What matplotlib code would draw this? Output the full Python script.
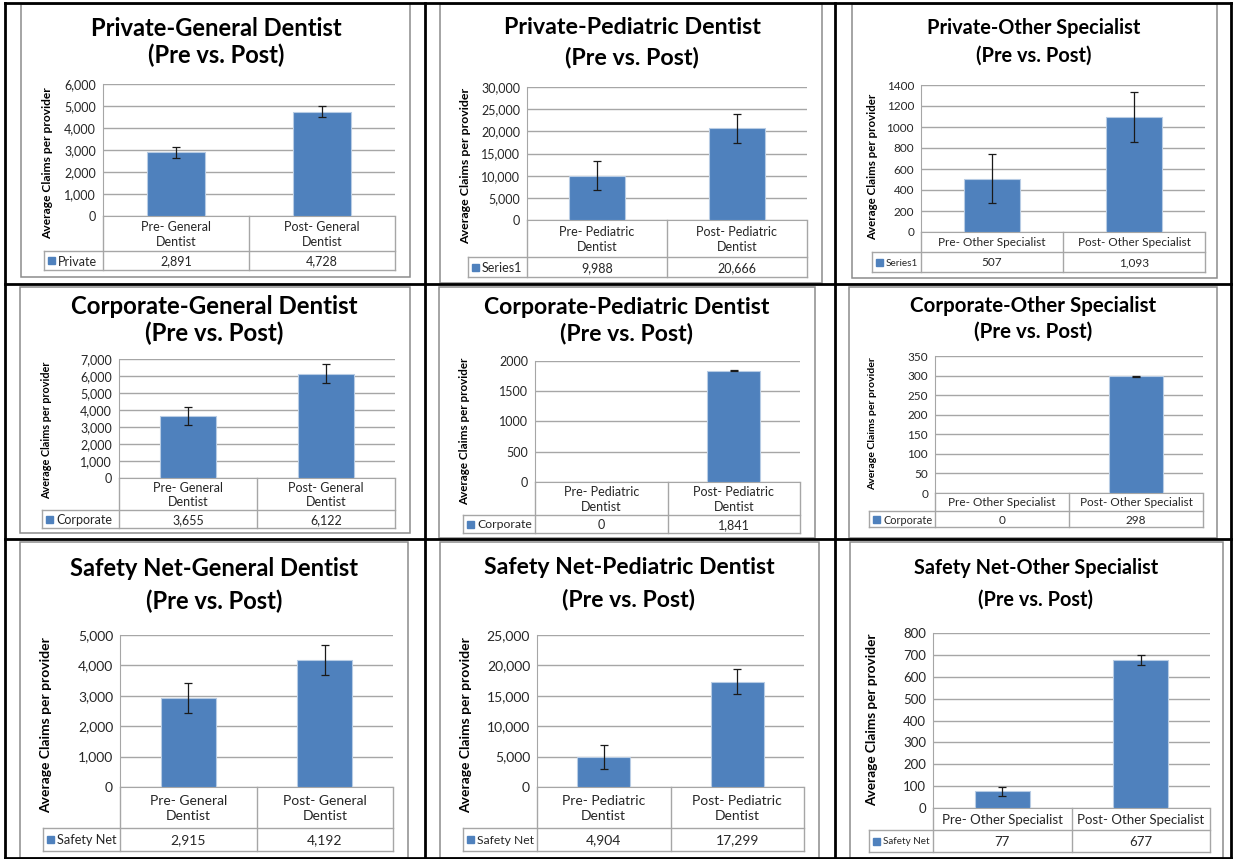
import matplotlib

matplotlib.use("Agg")

import matplotlib.pyplot as plt
from matplotlib.patches import Rectangle
from matplotlib.ticker import FuncFormatter, MultipleLocator

plt.rcParams["font.family"] = ["Lato", "DejaVu Sans"]

# ---- data ----
panel_titles = [
    "Private-General Dentist",
    "Private-Pediatric Dentist",
    "Private-Other Specialist",
    "Corporate-General Dentist",
    "Corporate-Pediatric Dentist",
    "Corporate-Other Specialist",
    "Safety Net-General Dentist",
    "Safety Net-Pediatric Dentist",
    "Safety Net-Other Specialist",
]
general_cats = ["Pre- General\nDentist", "Post- General\nDentist"]
pediatric_cats = ["Pre- Pediatric\nDentist", "Post- Pediatric\nDentist"]
other_cats = ["Pre- Other Specialist", "Post- Other Specialist"]
panel_cats = [general_cats, pediatric_cats, other_cats] * 3

series_names = ["Private", "Series1", "Series1",
                "Corporate", "Corporate", "Corporate",
                "Safety Net", "Safety Net", "Safety Net"]
pre_values = [2891, 9988, 507, 3655, 0, 0, 2915, 4904, 77]
post_values = [4728, 20666, 1093, 6122, 1841, 298, 4192, 17299, 677]
pre_err = [250, 3300, 235, 520, 0, 0, 490, 1975, 21]
post_err = [250, 3250, 238, 560, 10, 2, 495, 2050, 21]
y_max = [6000, 30000, 1400, 7000, 2000, 350, 5000, 25000, 800]
y_step = [1000, 5000, 200, 1000, 500, 50, 1000, 5000, 100]
y_commas = [True, True, False, True, False, False, True, True, False]

# ---- layout in pixels (l, t, r, b) ----
W, H = 1233, 859
layout = [
    dict(frame=(21, 4, 410, 277), plot=(103, 84, 395, 216), cat_b=251, val_b=270, leg_l=44,
         title=(216, 28, 55), title_w=238, ylab=(48, 163), ylab_len=147, fs=9),
    dict(frame=(440, 4, 822, 283), plot=(527, 87, 807, 220), cat_b=257, val_b=277, leg_l=468,
         title=(632, 28, 57), title_w=243, ylab=(466, 166), ylab_len=152, fs=9),
    dict(frame=(852, 4, 1217, 278), plot=(921, 85, 1205, 232), cat_b=252, val_b=272, leg_l=872,
         title=(1034, 28, 56), title_w=202, ylab=(873, 167), ylab_len=140, fs=8.5),
    dict(frame=(20, 287, 410, 533), plot=(119, 359, 395, 478), cat_b=510, val_b=528, leg_l=42,
         title=(214, 307, 333), title_w=272, ylab=(47, 430), ylab_len=133, fs=9),
    dict(frame=(439, 287, 815, 538), plot=(535, 361, 800, 482), cat_b=515, val_b=533, leg_l=463,
         title=(627, 308, 334), title_w=270, ylab=(465, 431), ylab_len=142, fs=9),
    dict(frame=(849, 287, 1217, 538), plot=(935, 356, 1203, 493), cat_b=511, val_b=527, leg_l=869,
         title=(1033, 306, 332), title_w=233, ylab=(873, 424), ylab_len=128, fs=8.5),
    dict(frame=(20, 542, 408, 858), plot=(120, 635, 393, 787), cat_b=828, val_b=851, leg_l=43,
         title=(214, 568, 601), title_w=273, ylab=(46, 725), ylab_len=170, fs=10),
    dict(frame=(440, 542, 819, 858), plot=(537, 635, 804, 787), cat_b=828, val_b=851, leg_l=463,
         title=(629, 568, 600), title_w=275, ylab=(466, 725), ylab_len=170, fs=10),
    dict(frame=(850, 542, 1223, 858), plot=(933, 633, 1210, 808), cat_b=830, val_b=852, leg_l=869,
         title=(1036, 568, 600), title_w=230, ylab=(872, 720), ylab_len=167, fs=9.5),
]
grid_x = [5, 425, 835, 1231]
grid_y = [3, 284, 539, 858]

BAR_BLUE = "#4F81BD"
BAR_EDGE = "#B8CCE4"
LINE_GREY = "#A6A6A6"
FRAME_GREY = "#8C8C8C"
TEXT = "#262626"

fig = plt.figure(figsize=(W / 100, H / 100), dpi=100)
fig.set_facecolor("w")
renderer = fig.canvas.get_renderer()

bg = fig.add_axes([0, 0, 1, 1], zorder=0)
bg.set_xlim(0, W)
bg.set_ylim(H, 0)
bg.axis("off")


def fit_text(t, target, vertical=False, shrink_only=False):
    bb = t.get_window_extent(renderer)
    size = bb.height if vertical else bb.width
    if shrink_only and size <= target:
        return
    t.set_fontsize(t.get_fontsize() * target / size)


def draw_panel(i):
    lay = layout[i]
    fl, ft, fr, fb = lay["frame"]
    pl, pt, pr, pb = lay["plot"]
    pm = (pl + pr) / 2
    fs = lay["fs"]

    bg.add_patch(Rectangle((fl, ft), fr - fl, fb - ft, fill=False,
                           edgecolor=FRAME_GREY, lw=1.1))

    # title, two lines
    cx, y1, y2 = lay["title"]
    t1 = bg.text(cx, y1, panel_titles[i], ha="center", va="center",
                 fontsize=15, fontweight="bold", color="black")
    fit_text(t1, lay["title_w"] * 1.06)
    bg.text(cx, y2, "(Pre vs. Post)", ha="center", va="center",
            fontsize=t1.get_fontsize(), fontweight="bold", color="black")

    # y label
    yl = bg.text(lay["ylab"][0], lay["ylab"][1], "Average Claims per provider",
                 rotation=90, ha="center", va="center", fontsize=8,
                 fontweight="bold", color="black")
    fit_text(yl, lay["ylab_len"] * 1.04, vertical=True)

    # plot area
    ax = fig.add_axes([pl / W, 1 - pb / H, (pr - pl) / W, (pb - pt) / H], zorder=2)
    ax.set_facecolor("none")
    x = [0, 1]
    vals = [pre_values[i], post_values[i]]
    errs = [pre_err[i], post_err[i]]
    ax.bar(x, vals, width=0.4, color=BAR_BLUE, edgecolor=BAR_EDGE, lw=0.8, zorder=3)
    for xi, v, e in zip(x, vals, errs):
        if v > 0:
            ax.errorbar(xi, v, yerr=e, fmt="none", ecolor="#1a1a1a",
                        elinewidth=0.9, capsize=2.6, capthick=0.9, zorder=4)
    ax.set_xlim(-0.5, 1.5)
    ax.set_ylim(0, y_max[i])
    ax.yaxis.set_major_locator(MultipleLocator(y_step[i]))
    if y_commas[i]:
        ax.yaxis.set_major_formatter(FuncFormatter(lambda v, p: f"{v:,.0f}"))
    else:
        ax.yaxis.set_major_formatter(FuncFormatter(lambda v, p: f"{v:.0f}"))
    ax.yaxis.grid(True, color=LINE_GREY, lw=1.0, zorder=0)
    ax.set_axisbelow(True)
    ax.set_xticks([])
    ax.tick_params(axis="y", length=0, pad=5, labelsize=fs, labelcolor=TEXT)
    for side in ["top", "right"]:
        ax.spines[side].set_visible(False)
    ax.spines["left"].set_color(LINE_GREY)
    ax.spines["bottom"].set_color(LINE_GREY)

    # data table under the plot
    cat_b, val_b, leg_l = lay["cat_b"], lay["val_b"], lay["leg_l"]
    kw = dict(color=LINE_GREY, lw=1.0)
    for xx in (pl, pm, pr):
        bg.plot([xx, xx], [pb, val_b], **kw)
    bg.plot([leg_l, leg_l], [cat_b, val_b], **kw)
    bg.plot([leg_l, pr], [cat_b, cat_b], **kw)
    bg.plot([leg_l, pr], [val_b, val_b], **kw)

    cats = panel_cats[i]
    for xc, lab, v in zip([(pl + pm) / 2, (pm + pr) / 2], cats, vals):
        bg.text(xc, (pb + cat_b) / 2 + 1, lab, ha="center", va="center",
                fontsize=fs, color=TEXT, linespacing=1.25)
        bg.text(xc, (cat_b + val_b) / 2 + 1, f"{v:,}", ha="center", va="center",
                fontsize=fs, color=TEXT)
    sq = 7
    ym = (cat_b + val_b) / 2
    bg.add_patch(Rectangle((leg_l + 4, ym - sq / 2), sq, sq, color=BAR_BLUE))
    name_x = leg_l + 4 + sq + 3
    nm = bg.text(name_x, ym + 1, series_names[i], ha="left", va="center",
                 fontsize=fs, color=TEXT)
    fit_text(nm, pl - name_x - 3, shrink_only=True)


for i in range(9):
    draw_panel(i)

# black table grid around the nine panels
for xx in grid_x:
    bg.plot([xx, xx], [grid_y[0], grid_y[-1]], color="black", lw=2.0)
for yy in grid_y:
    bg.plot([grid_x[0], grid_x[-1]], [yy, yy], color="black", lw=2.0)

fig.savefig("out.png", dpi=100)
plt.close(fig)
